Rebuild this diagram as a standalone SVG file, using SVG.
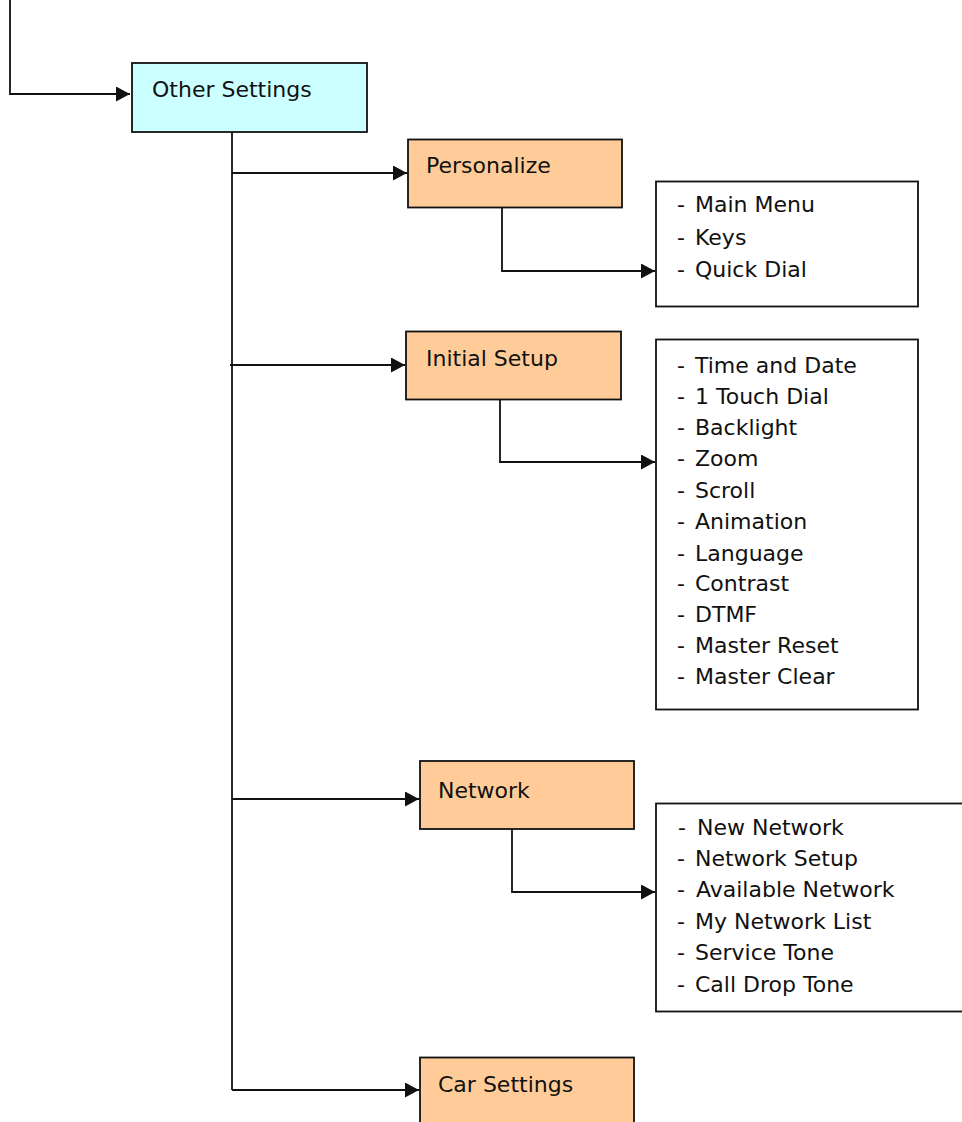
<svg xmlns="http://www.w3.org/2000/svg" width="962" height="1122" viewBox="0 0 962 1122">
<style>
.box{stroke:#111;stroke-width:1.8}
.main{fill:#CCFFFF}
.sub{fill:#FFCC99}
.list{fill:#FFFFFF}
.t{font-family:"DejaVu Sans","Liberation Sans",sans-serif;font-size:22px;fill:#111}
.ln{fill:none;stroke:#111;stroke-width:1.8}
</style>
<defs>
<marker id="arr" markerUnits="userSpaceOnUse" markerWidth="15" markerHeight="15" refX="14" refY="7.5" orient="auto">
<path d="M0,0 L14,7.5 L0,15 Z" fill="#111"/>
</marker>
</defs>
<rect width="962" height="1122" fill="#FFFFFF"/>
<g id="connectors">
<path class="ln" d="M10,0 V94 H130" marker-end="url(#arr)"/>
<path class="ln" d="M232,131 V1090"/>
<path class="ln" d="M232,173 H407" marker-end="url(#arr)"/>
<path class="ln" d="M230,365 H405" marker-end="url(#arr)"/>
<path class="ln" d="M232,799 H419" marker-end="url(#arr)"/>
<path class="ln" d="M232,1090 H419" marker-end="url(#arr)"/>
<path class="ln" d="M502,206 V271 H655" marker-end="url(#arr)"/>
<path class="ln" d="M500,398 V462 H655" marker-end="url(#arr)"/>
<path class="ln" d="M512,828 V892 H655" marker-end="url(#arr)"/>
</g>
<g id="other-settings">
<rect class="box main" x="132" y="63" width="235" height="69"/>
<text class="t" x="152" y="97">Other Settings</text>
</g>
<g id="personalize">
<rect class="box sub" x="408" y="139.5" width="214" height="68"/>
<text class="t" x="426" y="173">Personalize</text>
</g>
<g id="personalize-list">
<rect class="box list" x="656" y="181.5" width="262" height="125"/>
<text class="t" x="677" y="212">-<tspan x="695">Main Menu</tspan></text>
<text class="t" x="677" y="245">-<tspan x="695">Keys</tspan></text>
<text class="t" x="677" y="277">-<tspan x="695">Quick Dial</tspan></text>
</g>
<g id="initial-setup">
<rect class="box sub" x="406" y="331.5" width="215" height="68"/>
<text class="t" x="426" y="366">Initial Setup</text>
</g>
<g id="initial-setup-list">
<rect class="box list" x="656" y="339.5" width="262" height="370"/>
<text class="t" x="677" y="373">-<tspan x="695">Time and Date</tspan></text>
<text class="t" x="677" y="404">-<tspan x="695">1 Touch Dial</tspan></text>
<text class="t" x="677" y="435">-<tspan x="695">Backlight</tspan></text>
<text class="t" x="677" y="466">-<tspan x="695">Zoom</tspan></text>
<text class="t" x="677" y="498">-<tspan x="695">Scroll</tspan></text>
<text class="t" x="677" y="529">-<tspan x="695">Animation</tspan></text>
<text class="t" x="677" y="561">-<tspan x="695">Language</tspan></text>
<text class="t" x="677" y="591">-<tspan x="695">Contrast</tspan></text>
<text class="t" x="677" y="622">-<tspan x="695">DTMF</tspan></text>
<text class="t" x="677" y="653">-<tspan x="695">Master Reset</tspan></text>
<text class="t" x="677" y="684">-<tspan x="695">Master Clear</tspan></text>
</g>
<g id="network">
<rect class="box sub" x="420" y="761" width="214" height="68"/>
<text class="t" x="438" y="798">Network</text>
</g>
<g id="network-list">
<rect class="box list" x="656" y="803.5" width="320" height="208"/>
<text class="t" x="678" y="835">-<tspan x="697">New Network</tspan></text>
<text class="t" x="677" y="866">-<tspan x="695">Network Setup</tspan></text>
<text class="t" x="677" y="897">-<tspan x="696">Available Network</tspan></text>
<text class="t" x="677" y="929">-<tspan x="695">My Network List</tspan></text>
<text class="t" x="677" y="960">-<tspan x="695">Service Tone</tspan></text>
<text class="t" x="677" y="992">-<tspan x="695">Call Drop Tone</tspan></text>
</g>
<g id="car-settings">
<rect class="box sub" x="420" y="1057.5" width="214" height="80"/>
<text class="t" x="438" y="1092">Car Settings</text>
</g>
</svg>
